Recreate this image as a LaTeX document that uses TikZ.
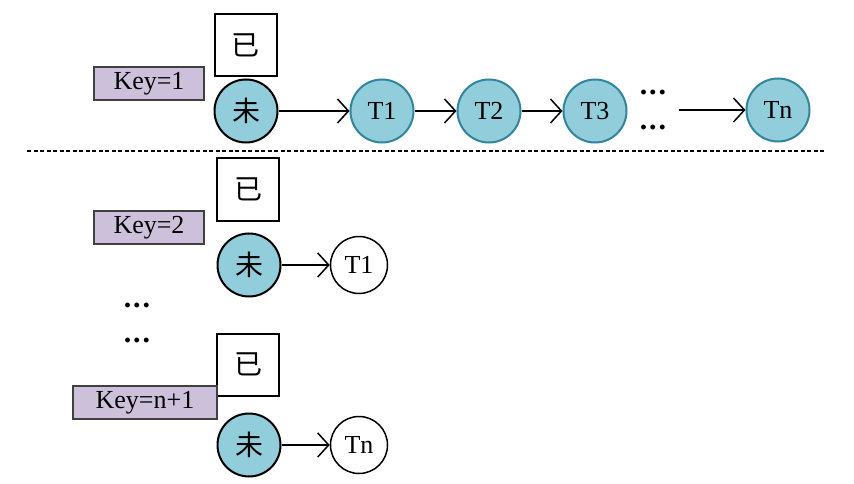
\documentclass[tikz,border=0pt]{standalone}
\usepackage{fontspec}
\setmainfont{Liberation Serif}
\newfontfamily\cjk{Noto Sans CJK SC}
\usetikzlibrary{arrows.meta}
\definecolor{nodeblue}{HTML}{92CDDC}
\definecolor{nodeedge}{HTML}{31859C}
\definecolor{keyfill}{HTML}{CCC0DA}

\begin{document}
\begin{tikzpicture}[x=1pt,y=-1pt,line width=1.5pt,
  keybox/.style={draw=black!75,fill=keyfill,line width=2pt,minimum height=33pt,inner sep=0pt,font=\fontsize{26}{26}\selectfont},
  donebox/.style={draw,line width=2pt,minimum width=62pt,minimum height=62pt,inner sep=0pt,font=\cjk\fontsize{28}{28}\selectfont},
  todo/.style={circle,draw,line width=2pt,fill=nodeblue,minimum size=63pt,inner sep=0pt,font=\cjk\fontsize{28}{28}\selectfont},
  task/.style={circle,draw=nodeedge,line width=2pt,fill=nodeblue,minimum size=63pt,inner sep=0pt,font=\fontsize{26}{26}\selectfont},
  newtask/.style={circle,draw,line width=1.5pt,minimum size=57pt,inner sep=0pt,font=\fontsize{26}{26}\selectfont},
  dots/.style={inner sep=0pt,font=\bfseries\fontsize{30}{30}\selectfont},
  link/.style={-{Straight Barb[length=11pt,width=24pt]}}]

\useasboundingbox (0,0) rectangle (854,484);

% Key=1
\node[keybox,minimum width=110pt] (key1) at (149,83.5) {Key=1};
\node[donebox] (done1) at (245.5,45) {已};
\node[todo] (todo1) at (246,111) {未};
\node[task] (t1a) at (382,111) {T1};
\node[task] (t1b) at (489,111) {T2};
\node[task] (t1c) at (595,111) {T3};
\node[dots] (dots1a) at (653,92) {.\kern2pt.\kern2pt.};
\node[dots] (dots1b) at (653,127) {.\kern2pt.\kern2pt.};
\coordinate (gap1) at (679,110);
\node[task] (t1n) at (778,110) {Tn};
\draw[link] (todo1) -- (t1a);
\draw[link] (t1a) -- (t1b);
\draw[link] (t1b) -- (t1c);
\draw[link] (gap1) -- (t1n);

\draw[line width=2.5pt,dash pattern=on 4pt off 2.5pt] (27,151) -- (825,151);

% Key=2
\node[keybox,minimum width=110pt] (key2) at (149,227.5) {Key=2};
\node[donebox] (done2) at (248,189.5) {已};
\node[todo] (todo2) at (249,265) {未};
\node[newtask] (t2a) at (359,265) {T1};
\draw[link] (todo2) -- (t2a);

\node[dots] (dots2a) at (137,305) {.\kern2pt.\kern2pt.};
\node[dots] (dots2b) at (137,340) {.\kern2pt.\kern2pt.};

% Key=n+1
\node[donebox] (done3) at (248,364.5) {已};
\node[keybox,minimum width=144pt] (key3) at (145,402.5) {Key=n+1};
\node[todo] (todo3) at (249,445) {未};
\node[newtask] (t3n) at (359,445) {Tn};
\draw[link] (todo3) -- (t3n);

\end{tikzpicture}
\end{document}
